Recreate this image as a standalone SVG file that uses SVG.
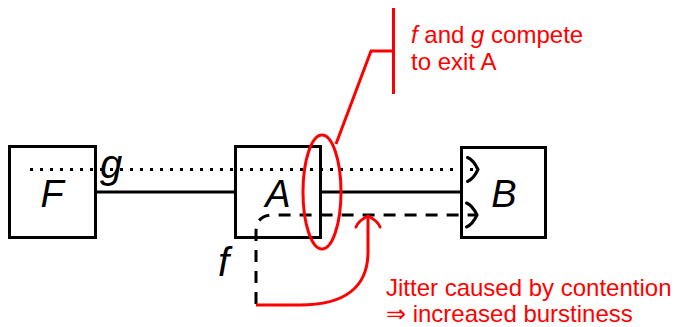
<svg xmlns="http://www.w3.org/2000/svg" width="674" height="327" viewBox="0 0 674 327">
<style>
.box{fill:#fff;stroke:#000;stroke-width:3}
.lbl{font-family:"Liberation Sans",Arial,sans-serif;font-style:italic;font-size:38px;fill:#000}
.var{font-family:"Liberation Sans",Arial,sans-serif;font-style:italic;font-size:40px;fill:#000}
.line{fill:none;stroke:#000;stroke-width:3}
.red{fill:none;stroke:#f00;stroke-width:3}
.note{font-family:"Liberation Sans",Arial,sans-serif;font-size:24px;fill:#f00}
</style>
<defs>
<marker id="arrB" markerUnits="userSpaceOnUse" viewBox="-14 -14 16 28" markerWidth="16" markerHeight="28" refX="0" refY="0" orient="auto" overflow="visible">
<path d="M-10.5,-12 Q-4.5,-9.5 0,0 Q-4.5,9.5 -10.5,12" fill="none" stroke="#000" stroke-width="3" stroke-linecap="round"/>
</marker>
<marker id="arrR" markerUnits="userSpaceOnUse" viewBox="-14 -14 16 28" markerWidth="16" markerHeight="28" refX="0" refY="0" orient="auto" overflow="visible">
<path d="M-11,-12 Q-4.5,-9.5 0,0 Q-4.5,9.5 -11,12" fill="none" stroke="#f00" stroke-width="3" stroke-linecap="round"/>
</marker>
</defs>
<g id="node-F">
<rect class="box" x="9.5" y="146.5" width="86" height="91"/>
</g>
<g id="node-A">
<rect class="box" x="235.5" y="146.5" width="85" height="91"/>
</g>
<g id="node-B">
<rect class="box" x="461.5" y="147.5" width="84" height="90"/>
</g>
<g id="connectors">
<line class="line" x1="96" y1="192" x2="235" y2="192"/>
<line class="line" x1="321" y1="192" x2="461" y2="192"/>
<path class="line" d="M30,169.5 L478,169.5" stroke-dasharray="3 7" marker-end="url(#arrB)"/>
<path class="line" d="M256,304 L256,232 Q256,215 273,215 L477,215" stroke-dasharray="12 9" marker-end="url(#arrB)"/>
<path class="red" d="M256,305 L300,305 C345,305 368,287 368,252 L368,216" marker-end="url(#arrR)"/>
<ellipse class="red" cx="322" cy="192" rx="19" ry="57"/>
<path class="red" d="M336,144 L371,51 L393,51"/>
<line class="red" x1="393.5" y1="8" x2="393.5" y2="94"/>
</g>
<text class="lbl" x="52" y="207" text-anchor="middle">F</text>
<text class="lbl" x="278" y="207" text-anchor="middle">A</text>
<text class="lbl" x="504" y="207" text-anchor="middle">B</text>
<text class="var" x="100" y="178">g</text>
<text class="var" x="218" y="276">f</text>
<text class="note" x="411" y="43"><tspan font-style="italic">f</tspan> and <tspan font-style="italic">g</tspan> compete</text>
<text class="note" x="411" y="70">to exit A</text>
<text class="note" x="386" y="296">Jitter caused by contention</text>
<text class="note" x="386" y="322">⇒ increased burstiness</text>
</svg>
